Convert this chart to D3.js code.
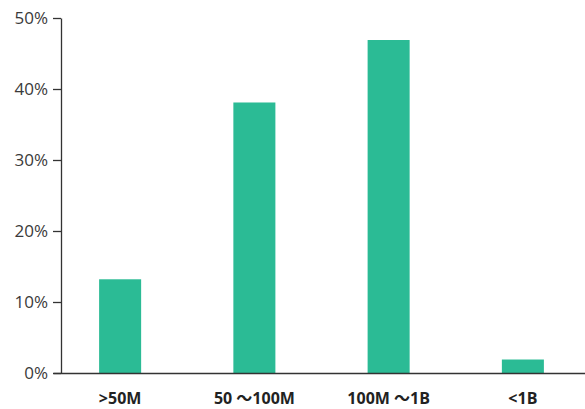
<!DOCTYPE html>
<html lang="en">
<head>
	<meta charset="UTF-8">
	<title>Bar chart</title>
	<script src="https://cdn.jsdelivr.net/npm/d3@7"></script>
	<style>
		body { margin: 0; background: #fff; }
		.bar { fill: #2bbb95; }
		.axis path, .axis line { stroke: #333; stroke-width: 1.3; }
		.axis--y text { font-family: "Open Sans", sans-serif; font-size: 17px; fill: #3a3a3a; font-weight: 400; }
		.axis--x text { font-family: "Open Sans", "Noto Sans CJK SC", sans-serif; font-size: 16px; fill: #222; font-weight: bold; }
	</style>
</head>
<body>
<script type="text/javascript">

	var categories = ['>50M', '50 \u301C100M', '100M \u301C1B', '<1B'];
	var values = [13.2, 38.1, 46.9, 1.9];
	var yTicks = [0, 10, 20, 30, 40, 50];

	window.onload = function () {
		var width = 585, height = 409;
		var x0 = 53, x1 = 590, yTop = 18, yBottom = 373;

		var svg = d3.select('body').append('svg')
			.attr('width', width)
			.attr('height', height);

		var x = d3.scaleBand()
			.range([x0, x1])
			.paddingInner(0.687)
			.paddingOuter(0.3435)
			.domain(categories);

		var y = d3.scaleLinear()
			.range([yBottom, yTop])
			.domain([0, 50]);

		svg.selectAll('.bar')
			.data(values)
			.enter().append('rect')
			.attr('class', 'bar')
			.attr('x', function (d, i) { return x(categories[i]); })
			.attr('y', function (d) { return y(d); })
			.attr('width', x.bandwidth())
			.attr('height', function (d) { return yBottom - y(d); });

		var yAxis = svg.append('g')
			.attr('class', 'axis axis--y')
			.attr('transform', 'translate(61,0)')
			.call(d3.axisLeft(y).tickValues(yTicks).tickSize(8).tickSizeOuter(0)
				.tickFormat(function (d) { return d + '%'; }));
		yAxis.selectAll('text').attr('x', -13).attr('dy', '0.35em');

		var xAxis = svg.append('g')
			.attr('class', 'axis axis--x')
			.attr('transform', 'translate(0,' + yBottom + ')')
			.call(d3.axisBottom(x).tickSize(0).tickSizeOuter(0));
		xAxis.selectAll('text').attr('y', 31).attr('dy', 0);
	};
</script>
</body>
</html>
